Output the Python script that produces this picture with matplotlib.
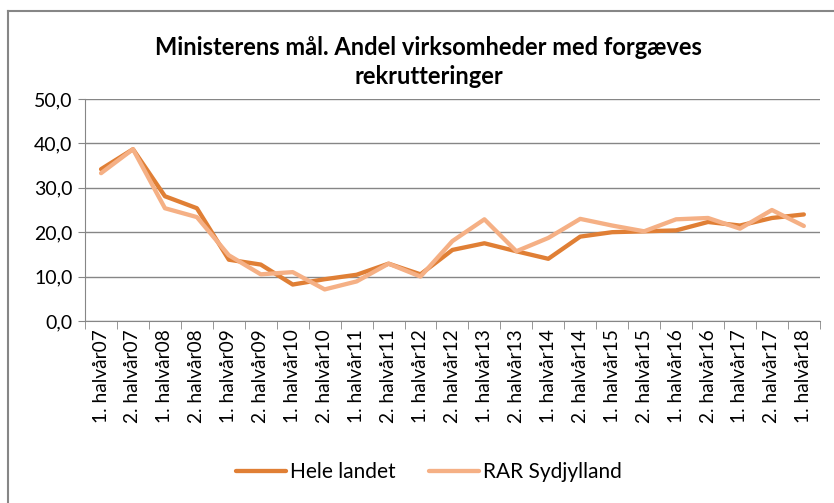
import matplotlib.pyplot as plt
from matplotlib.lines import Line2D

categories = []
for yr in range(7, 19):
    categories.append(f"1. halvår{yr:02d}")
    if yr < 18:
        categories.append(f"2. halvår{yr:02d}")

hele_landet = [34.2, 38.7, 28.1, 25.4, 13.8, 12.7, 8.2, 9.4, 10.4, 12.9, 10.5, 16.0,
               17.5, 15.7, 14.0, 19.0, 20.0, 20.2, 20.4, 22.3, 21.5, 23.2, 24.0]
rar_sydjylland = [33.3, 38.7, 25.4, 23.4, 14.8, 10.5, 11.0, 7.1, 8.9, 12.9, 10.0, 18.0,
                  22.9, 15.7, 18.7, 23.0, 21.5, 20.2, 22.9, 23.2, 20.8, 25.0, 21.4]
y_ticks = [0, 10, 20, 30, 40, 50]

plt.rcParams['font.family'] = ['Lato', 'DejaVu Sans']

fig = plt.figure(figsize=(8.34, 5.03), dpi=100)
ax = fig.add_axes([0.102, 0.362, 0.881, 0.441])

x = list(range(len(categories)))
ax.plot(x, hele_landet, color='#E07F35', linewidth=3.1, label='Hele landet', solid_capstyle='round')
ax.plot(x, rar_sydjylland, color='#F5B085', linewidth=3.1, label='RAR Sydjylland', solid_capstyle='round')

ax.set_xlim(-0.5, len(categories) - 0.5)
ax.set_ylim(0, 50)
ax.set_yticks(y_ticks)
ax.set_yticklabels([f"{v:.1f}".replace('.', ',') for v in y_ticks], fontsize=14)
ax.set_xticks(x)
ax.set_xticklabels(categories, rotation=90, fontsize=13.8)
ax.tick_params(axis='x', length=0, pad=6)
ax.set_xticks([i - 0.5 for i in range(len(categories) + 1)], minor=True)
ax.tick_params(axis='x', which='minor', length=6, color='#868686')
ax.tick_params(axis='y', length=5, color='#868686', pad=4)

ax.grid(axis='y', color='#868686', linewidth=1)
ax.set_axisbelow(True)
for side in ['top', 'right']:
    ax.spines[side].set_visible(False)
for side in ['left', 'bottom']:
    ax.spines[side].set_color('#868686')

fig.text(0.514, 0.877, "Ministerens mål. Andel virksomheder med forgæves\nrekrutteringer",
         ha='center', va='center', fontsize=17, fontweight='bold', linespacing=1.3)

fig.legend(loc='center', bbox_to_anchor=(0.514, 0.062), ncol=2, frameon=False,
           fontsize=15, handlelength=2.4, handletextpad=0.2, columnspacing=1.6)

# chart-area border (only top and left edges visible in the crop)
fig.add_artist(Line2D([0.009, 1.0], [0.978, 0.978], transform=fig.transFigure,
                      color='#868686', linewidth=1.5))
fig.add_artist(Line2D([0.009, 0.009], [0.0, 0.978], transform=fig.transFigure,
                      color='#868686', linewidth=1.5))

fig.savefig('out.png', dpi=100)
